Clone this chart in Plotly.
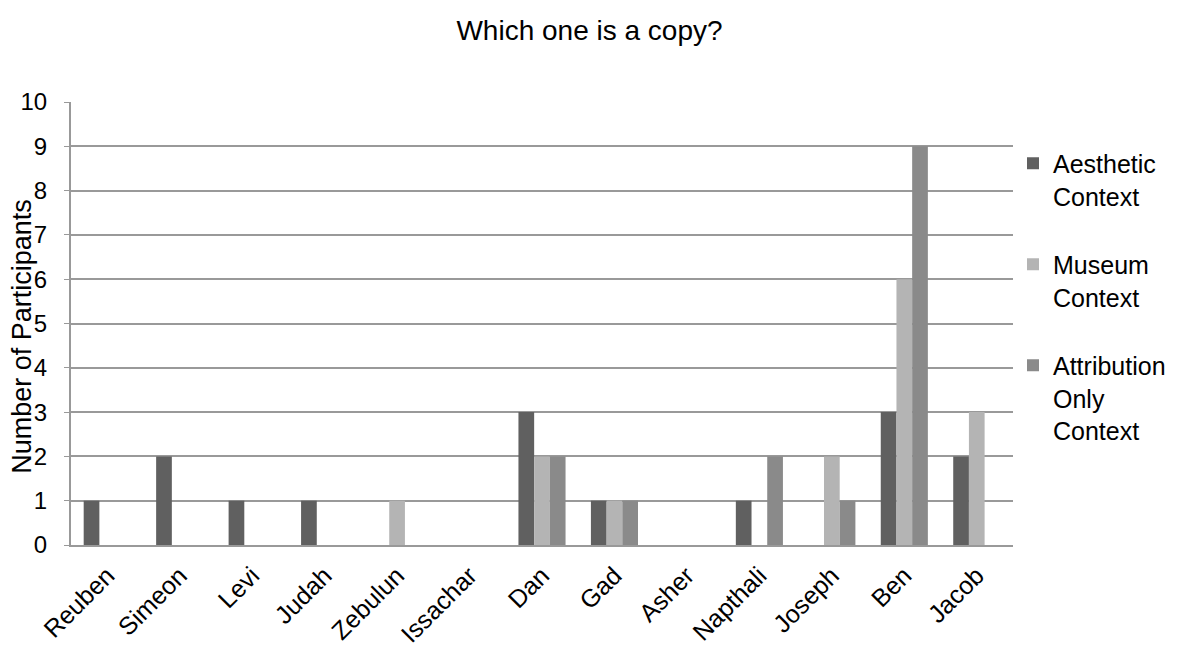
import plotly.graph_objects as go

categories = ["Reuben", "Simeon", "Levi", "Judah", "Zebulun", "Issachar", "Dan",
              "Gad", "Asher", "Napthali", "Joseph", "Ben", "Jacob"]
aesthetic = [1, 2, 1, 1, 0, 0, 3, 1, 0, 1, 0, 3, 2]
museum = [0, 0, 0, 0, 1, 0, 2, 1, 0, 0, 2, 6, 3]
attribution = [0, 0, 0, 0, 0, 0, 2, 1, 0, 2, 1, 9, 0]
series_names = ["Aesthetic<br>Context", "Museum<br>Context", "Attribution<br>Only<br>Context"]
colors = ["#606060", "#b4b4b4", "#8a8a8a"]

FONT = "Liberation Sans, Arial, Helvetica, sans-serif"

fig = go.Figure()
for i, (name, vals, col) in enumerate(zip(series_names, [aesthetic, museum, attribution], colors)):
    fig.add_trace(go.Bar(x=categories, y=vals, name=name, legendgroup=f"g{i}",
                         marker=dict(color=col, line=dict(width=0))))

fig.update_layout(
    width=1179, height=647,
    margin=dict(l=71, r=166, t=102, b=102, autoexpand=False),
    paper_bgcolor="white", plot_bgcolor="white",
    barmode="group", bargap=0.35, bargroupgap=0,
    font=dict(family=FONT, color="#000000", size=24),
    title=dict(text="Which one is a copy?", x=0.5, xanchor="center",
               y=0.953, yanchor="middle", font=dict(size=28, family=FONT)),
    xaxis=dict(showgrid=False, showline=True, linecolor="#999999", linewidth=2,
               tickangle=-45, tickfont=dict(size=25, family=FONT), ticks="",
               ticklabelstandoff=4,
               range=[-0.5, 12.5], automargin=False),
    yaxis=dict(range=[0, 10], dtick=1, showgrid=True, gridcolor="#999999",
               gridwidth=2, showline=True, linecolor="#999999", linewidth=2,
               ticks="outside", ticklen=5, tickcolor="#999999",
               ticklabelstandoff=12,
               tickfont=dict(size=24, family=FONT), zeroline=False, automargin=False),
    legend=dict(x=1.0, y=0.913, xanchor="left", yanchor="top",
                font=dict(size=25, family=FONT), tracegroupgap=33,
                itemsizing="constant", traceorder="grouped", valign="top",
                itemwidth=30, bgcolor="rgba(0,0,0,0)"),
    showlegend=True,
    annotations=[dict(text="Number of Participants", textangle=-90,
                      xref="paper", yref="paper", x=-0.052, y=0.47,
                      xanchor="center", yanchor="middle", showarrow=False,
                      font=dict(size=27, family=FONT))],
)

fig.write_html("out.html")
